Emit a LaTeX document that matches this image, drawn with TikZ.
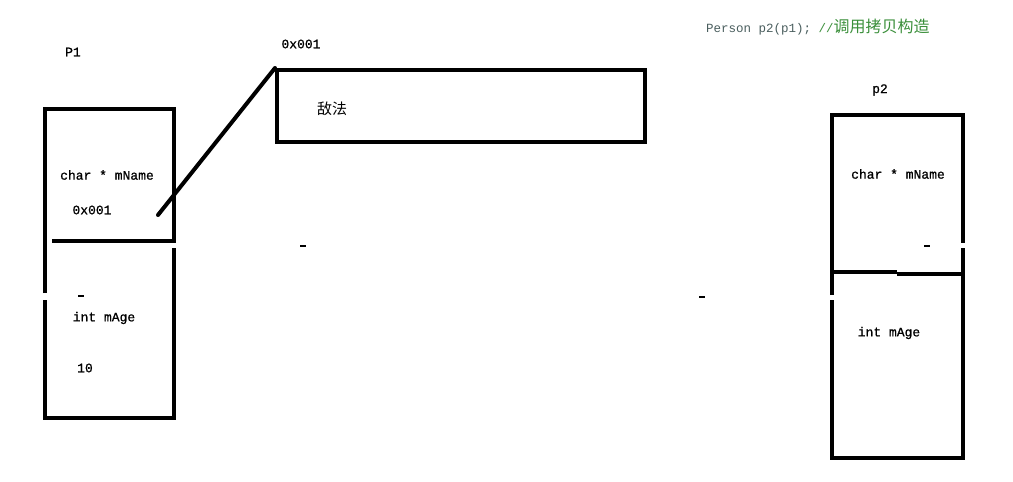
\documentclass[tikz,border=0pt]{standalone}
\usepackage{fontspec}
\setmonofont{Liberation Mono}
\newfontfamily\lblmono[FakeBold=0.8]{Liberation Mono}
\newfontfamily\cjk{Noto Sans CJK SC}
\definecolor{codegray}{HTML}{4A5E5E}
\definecolor{codegreen}{HTML}{3A8F3A}
\begin{document}
\begin{tikzpicture}[x=1pt,y=-1pt,
  wall/.style={line width=4pt, line join=miter, black},
  lbl/.style={font=\fontsize{13}{15}\selectfont\lblmono, inner sep=0pt, text=black},
  hz/.style={font=\fontsize{15}{17}\selectfont\cjk, inner sep=0pt, text=black},
  tick/.style={line width=2pt, black}]
\useasboundingbox[fill=white] (0,0) rectangle (1013,482);

% caption
\node[anchor=west, inner sep=0pt, font=\fontsize{12.5}{15}\selectfont\ttfamily] (code) at (706,27)
  {\textcolor{codegray}{Person p2(p1); }\textcolor{codegreen}{//{\cjk\fontsize{16}{18}\selectfont 调用拷贝构造}}};

% P1 object
\node[lbl] (p1lbl) at (73,52) {P1};
\coordinate (p1tl) at (45,109);
\coordinate (p1br) at (174,418);
\draw[wall] (45,293) -- (p1tl) -- (174,109) -- (174,243);
\draw[wall] (174,248) -- (p1br) -- (45,418) -- (45,300);
\draw[wall] (52,241) -- (174,241);
\node[lbl] (p1name) at (107,175) {char * mName};
\node[lbl] (p1addr) at (92,210) {0x001};
\draw[tick] (78,296) -- (84,296);
\node[lbl] (p1age) at (104,318) {int mAge};
\node[lbl] (p1val) at (85,368) {10};

% heap block
\node[draw, wall, minimum width=368pt, minimum height=72pt, anchor=north west, inner sep=0pt] (heap) at (275,68) {};
\node[lbl] (heapaddr) at (301,44) {0x001};
\node[hz] (heapval) at (332,109) {敌法};

% pointer
\coordinate (ptr) at (158,215);
\draw[wall, line cap=round] (ptr) -- (heap.north west);

% stray marks
\draw[tick] (300,246) -- (306,246);
\draw[tick] (699,297) -- (705,297);

% p2 object
\node[lbl] (p2lbl) at (880,90) {p2};
\coordinate (p2tl) at (832,115);
\coordinate (p2br) at (963,458);
\draw[wall] (832,295) -- (p2tl) -- (963,115) -- (963,243);
\draw[wall] (963,248) -- (p2br) -- (832,458) -- (832,300);
\draw[wall] (832,272) -- (897,272);
\draw[wall] (897,274) -- (963,274);
\node[lbl] (p2name) at (898,174) {char * mName};
\draw[tick] (924,246) -- (930,246);
\node[lbl] (p2age) at (889,333) {int mAge};
\end{tikzpicture}
\end{document}
